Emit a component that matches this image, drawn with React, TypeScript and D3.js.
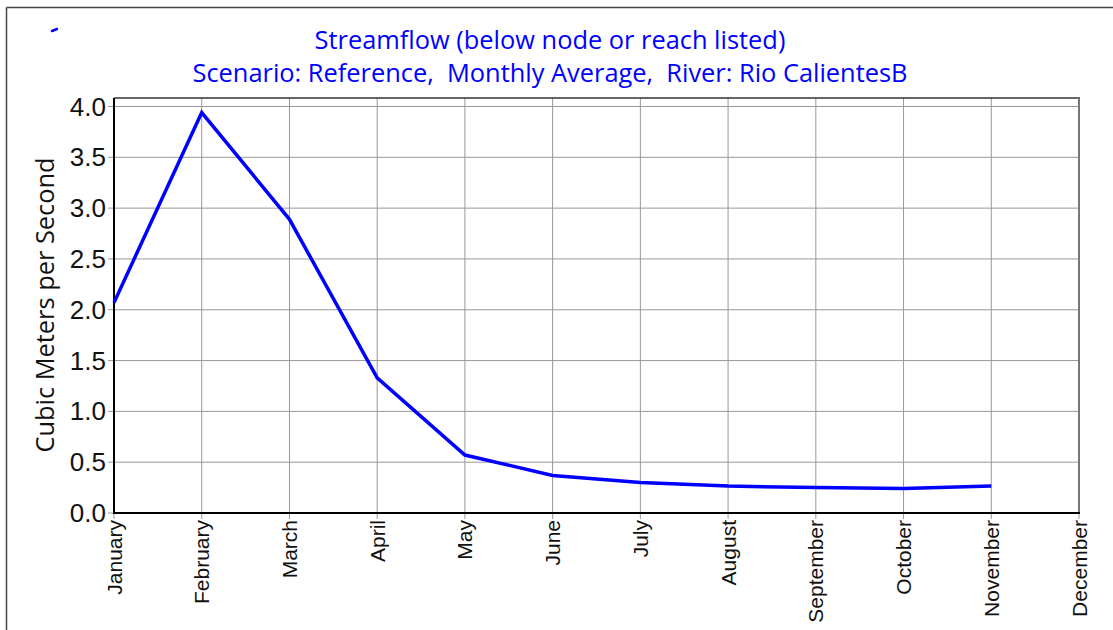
import React from "react";
import * as d3 from "d3";

const months = ["January","February","March","April","May","June","July","August","September","October","November","December"];
const flowValues = [2.07, 3.94, 2.89, 1.33, 0.57, 0.37, 0.30, 0.265, 0.25, 0.24, 0.265];
const yTicks = [0, 0.5, 1.0, 1.5, 2.0, 2.5, 3.0, 3.5, 4.0];
const titleLines = ["Streamflow (below node or reach listed)", "Scenario: Reference,  Monthly Average,  River: Rio CalientesB"];
const yLabel = "Cubic Meters per Second";

export default function App() {
  const W = 1113, H = 630;
  const left = 114, right = 1079, top = 98, bottom = 513;
  const x = d3.scalePoint<string>().domain(months).range([left, right]);
  const y = d3.scaleLinear().domain([0, 4]).range([bottom, 106.5]);
  const line = d3.line<number>().x((_, i) => x(months[i])!).y(d => y(d));
  const tickFont = "'Liberation Sans', Arial, sans-serif";
  const titleFont = "'Open Sans', 'Noto Sans', sans-serif";
  return (
    <svg width={W} height={H} style={{ position: "absolute", left: 0, top: 0, background: "#fff" }}>
      <rect x={0} y={0} width={W} height={H} fill="#fff" />
      <line x1={6.5} y1={7.5} x2={W} y2={7.5} stroke="#444" strokeWidth={1.5} />
      <line x1={6.5} y1={7.5} x2={6.5} y2={H} stroke="#444" strokeWidth={1.5} />
      <line x1={52} y1={31} x2={57} y2={29} stroke="blue" strokeWidth={2.5} strokeLinecap="round" />
      <text x={550} y={49} textAnchor="middle" fill="blue" fontFamily={titleFont} fontSize={25.4} style={{ whiteSpace: "pre" }}>{titleLines[0]}</text>
      <text x={550} y={82} textAnchor="middle" fill="blue" fontFamily={titleFont} fontSize={25.4} style={{ whiteSpace: "pre" }}>{titleLines[1]}</text>
      {yTicks.map(t => (
        <line key={"gy" + t} x1={left} x2={right} y1={y(t)} y2={y(t)} stroke="#999" strokeWidth={1} />
      ))}
      {months.map(m => (
        <line key={"gx" + m} x1={x(m)} x2={x(m)} y1={top} y2={bottom} stroke="#999" strokeWidth={1} />
      ))}
      <line x1={left} x2={right + 1} y1={top} y2={top} stroke="#333" strokeWidth={1.5} />
      <line x1={right} x2={right} y1={top} y2={bottom} stroke="#777" strokeWidth={2} />
      {yTicks.map(t => (
        <g key={"ty" + t}>
          <line x1={left - 6} x2={left} y1={y(t)} y2={y(t)} stroke="#999" strokeWidth={1} />
          <text x={106} y={y(t) + 9} textAnchor="end" fontFamily={tickFont} fontSize={26} fill="#111">{t.toFixed(1)}</text>
        </g>
      ))}
      {months.map(m => (
        <g key={"tx" + m}>
          <line x1={x(m)} x2={x(m)} y1={bottom} y2={bottom + 6} stroke="#999" strokeWidth={1} />
          <text transform={`translate(${x(m)! + 7.5},${bottom + 7}) rotate(-90)`} textAnchor="end" fontFamily={tickFont} fontSize={21} fill="#111">{m}</text>
        </g>
      ))}
      <line x1={left} x2={left} y1={top} y2={bottom + 1} stroke="#000" strokeWidth={2} />
      <line x1={left} x2={right + 1} y1={bottom} y2={bottom} stroke="#000" strokeWidth={2} />
      <text transform={`translate(54,305) rotate(-90)`} textAnchor="middle" fontFamily={titleFont} fontSize={25.4} fill="#111">{yLabel}</text>
      <path d={line(flowValues) || ""} fill="none" stroke="blue" strokeWidth={3.5} strokeLinejoin="miter" />
    </svg>
  );
}
